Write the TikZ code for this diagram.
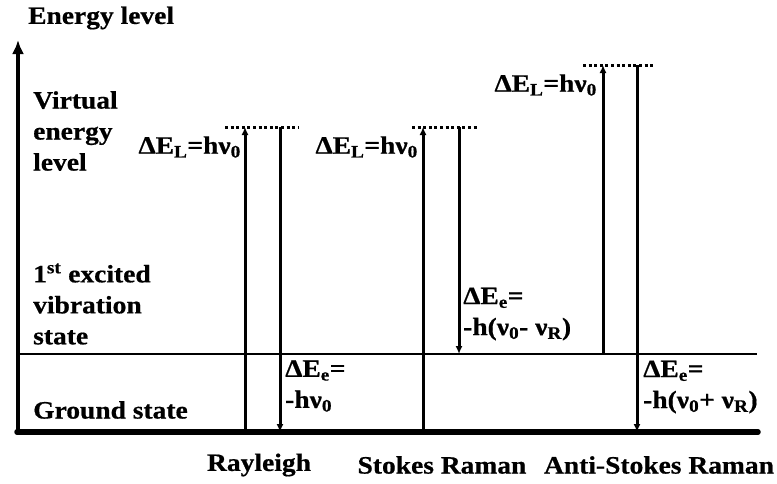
\documentclass[tikz,border=0pt]{standalone}
\usepackage{fontspec}
\setmainfont{Liberation Serif}[FakeStretch=1.1,FakeBold=0.6]
\usetikzlibrary{arrows.meta,positioning}

\begin{document}
\begin{tikzpicture}[x=1pt,y=-1pt,>={Latex[length=8pt,width=7pt]},
    every node/.append style={font=\fontsize{25}{31}\selectfont\bfseries,inner sep=0pt},
    txt/.style={align=left},
    trans/.style={->,line width=3pt},
    virt/.style={line width=3pt,dash pattern=on 3pt off 2.6pt},
    axis/.style={line width=4.5pt},
    level/.style={line width=2.2pt}]
    \useasboundingbox (0,0) rectangle (777,483);
    % axes and real levels
    \coordinate (O) at (18,432);
    \coordinate (Top) at (18,40);
    \coordinate (End) at (758,432);
    \coordinate (Vib) at (18,354);
    \coordinate (VibEnd) at (757,354);
    \draw[axis,-{Latex[length=14pt,width=12pt]}] ([yshift=2pt]O) -- (Top);
    \draw[axis,line width=5.5pt,line cap=round] ([xshift=-1pt]O) -- (End);
    \draw[level] (Vib) -- (VibEnd);
    % virtual levels
    \coordinate (Rv) at (245,127);  \coordinate (Rw) at (280,127);
    \coordinate (Sv) at (423,127);  \coordinate (Sw) at (459,127);
    \coordinate (Av) at (603,65);   \coordinate (Aw) at (637,65);
    \draw[virt] (225,127) -- (298,127);
    \draw[virt] (412,127) -- (478,127);
    \draw[virt] (583,65) -- (655,65);
    % transitions
    \coordinate (R0) at (245,432);  \coordinate (R1) at (280,432);
    \coordinate (S0) at (423,432);  \coordinate (S1) at (459,354);
    \coordinate (A0) at (603,354);  \coordinate (A1) at (637,432);
    \draw[trans] (R0) -- (Rv);
    \draw[trans] (Rw) -- (R1);
    \draw[trans] (S0) -- (Sv);
    \draw[trans] (Sw) -- (S1);
    \draw[trans] (A0) -- (Av);
    \draw[trans] (Aw) -- (A1);
    % labels
    \node[anchor=west] (title) at (28,18) {Energy level};
    \node[txt,anchor=west] (virtual) at (33,131) {Virtual\\energy\\level};
    \node[txt,anchor=west] (excited) at (33,304) {1\textsuperscript{st} excited\\vibration\\state};
    \node[anchor=west] (ground) at (33,410) {Ground state};
    \node[anchor=east] (dLR) at (241,147) {ΔE\textsubscript{L}=hν\textsubscript{0}};
    \node[anchor=east] (dLS) at (418,147) {ΔE\textsubscript{L}=hν\textsubscript{0}};
    \node[anchor=east] (dLA) at (597,85) {ΔE\textsubscript{L}=hν\textsubscript{0}};
    \node[txt,anchor=west] (dER) at (285,386) {ΔE\textsubscript{e}=\\-hν\textsubscript{0}};
    \node[txt,anchor=west] (dES) at (463,314) {ΔE\textsubscript{e}=\\-h(ν\textsubscript{0}- ν\textsubscript{R})};
    \node[txt,anchor=west] (dEA) at (643,387) {ΔE\textsubscript{e}=\\-h(ν\textsubscript{0}+ ν\textsubscript{R})};
    \node (rayleigh) at (259,465) {Rayleigh};
    \node (stokes) at (442,465) {Stokes Raman};
    \node (antistokes) at (659,465) {Anti-Stokes Raman};
\end{tikzpicture}
\end{document}
